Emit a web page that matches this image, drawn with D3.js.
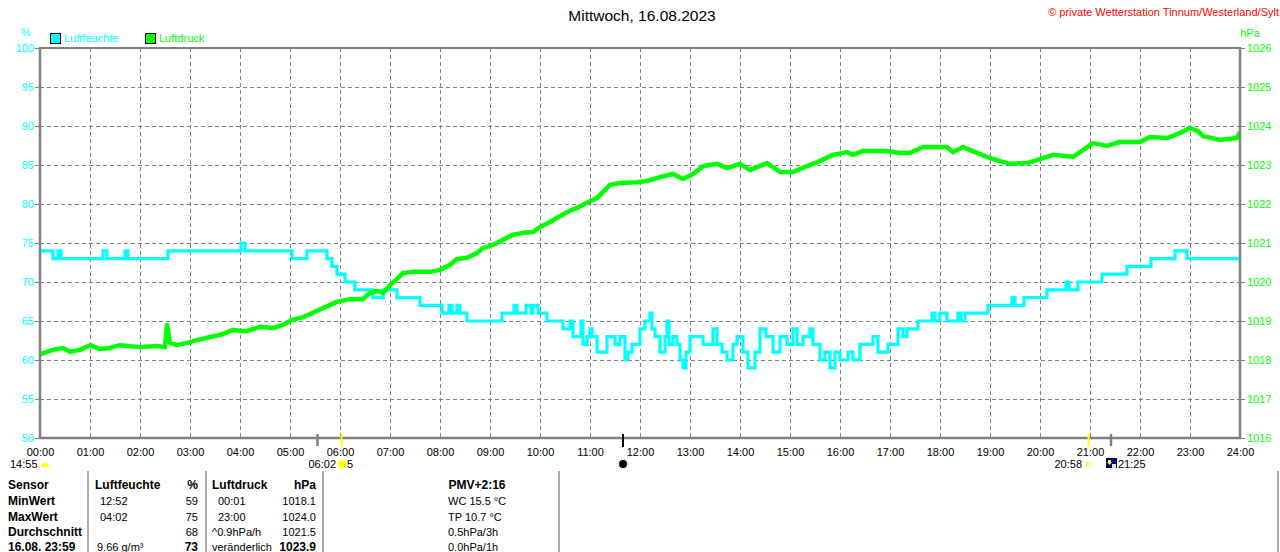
<!DOCTYPE html>
<html><head><meta charset="utf-8">
<script src="https://cdn.jsdelivr.net/npm/d3@7"></script>
<style>
body{margin:0;background:#fff}
svg{display:block;font-family:"Liberation Sans",Arial,sans-serif}
</style>
</head><body>
<svg id="c" width="1280" height="552"></svg>
<script>
// ---------- data ----------
const chartTitle = "Mittwoch, 16.08.2023";
const copyright = "© private Wetterstation Tinnum/Westerland/Sylt";
const seriesNames = ["Luftfeuchte", "Luftdruck"];
const seriesColors = ["#00ffff", "#00ff00"];
const hourTicks = [0,1,2,3,4,5,6,7,8,9,10,11,12,13,14,15,16,17,18,19,20,21,22,23,24];
const hourLabels = ["00:00","01:00","02:00","03:00","04:00","05:00","06:00","07:00","08:00","09:00","10:00","11:00","12:00","13:00","14:00","15:00","16:00","17:00","18:00","19:00","20:00","21:00","22:00","23:00","24:00"];
const humTicks = [50,55,60,65,70,75,80,85,90,95,100];
const presTicks = [1016,1017,1018,1019,1020,1021,1022,1023,1024,1025,1026];

// humidity [hour, %] (step values)
const humidity = [[0,74],[0.26,73],[0.36,74],[0.42,73],[1.26,74],[1.34,73],[1.70,74],[1.76,73],[2.56,74],[4.02,75],[4.10,74],[5.04,73],[5.34,74],[5.74,73],[5.84,72],[5.94,71],[6.10,70],[6.30,69],[6.66,68],[6.86,69],[7.14,68],[7.60,67],[8.04,66],[8.18,67],[8.24,66],[8.34,67],[8.40,66],[8.54,65],[9.24,66],[9.48,67],[9.54,66],[9.72,67],[9.82,66],[9.86,67],[9.96,66],[10.14,65],[10.46,64],[10.60,65],[10.66,63],[10.82,65],[10.86,62],[10.94,63],[11.00,64],[11.04,63],[11.14,61],[11.34,63],[11.50,62],[11.60,63],[11.70,60],[11.76,61],[11.84,62],[12.00,64],[12.10,65],[12.20,66],[12.24,64],[12.30,63],[12.40,61],[12.50,63],[12.54,65],[12.58,62],[12.66,63],[12.74,62],[12.80,60],[12.86,59],[12.92,61],[13.00,63],[13.26,62],[13.46,64],[13.54,62],[13.64,61],[13.74,60],[13.86,62],[13.94,63],[14.06,61],[14.16,59],[14.30,61],[14.40,64],[14.52,63],[14.66,61],[14.80,63],[14.94,62],[15.06,64],[15.14,62],[15.26,63],[15.40,64],[15.46,62],[15.60,60],[15.70,61],[15.80,59],[15.90,61],[16.00,60],[16.16,61],[16.26,60],[16.40,62],[16.66,63],[16.76,61],[16.96,62],[17.16,64],[17.26,63],[17.34,64],[17.56,65],[17.84,66],[17.90,65],[18.00,66],[18.14,65],[18.36,66],[18.42,65],[18.50,66],[18.96,67],[19.44,68],[19.50,67],[19.68,68],[20.14,69],[20.52,70],[20.58,69],[20.76,70],[21.24,71],[21.74,72],[22.22,73],[22.70,74],[22.94,73],[24,73]];

// pressure [hour, hPa]
const pressure = [[0.00,1018.15],[0.26,1018.26],[0.46,1018.31],[0.60,1018.21],[0.80,1018.26],[1.00,1018.38],[1.20,1018.28],[1.40,1018.31],[1.60,1018.38],[2.00,1018.33],[2.34,1018.36],[2.50,1018.33],[2.54,1018.90],[2.60,1018.44],[2.74,1018.38],[2.94,1018.44],[3.14,1018.51],[3.40,1018.59],[3.60,1018.64],[3.86,1018.77],[4.14,1018.74],[4.40,1018.85],[4.66,1018.82],[4.86,1018.90],[5.04,1019.03],[5.26,1019.10],[5.46,1019.21],[5.66,1019.33],[5.94,1019.49],[6.20,1019.56],[6.46,1019.56],[6.60,1019.72],[6.74,1019.77],[6.86,1019.72],[7.00,1019.92],[7.14,1020.08],[7.26,1020.23],[7.46,1020.26],[7.80,1020.26],[8.00,1020.31],[8.20,1020.44],[8.34,1020.59],[8.54,1020.62],[8.74,1020.74],[8.86,1020.87],[9.06,1020.95],[9.26,1021.08],[9.46,1021.21],[9.66,1021.26],[9.86,1021.28],[10.00,1021.41],[10.20,1021.54],[10.34,1021.64],[10.54,1021.79],[10.74,1021.90],[10.94,1022.03],[11.14,1022.15],[11.26,1022.31],[11.40,1022.49],[11.60,1022.54],[11.94,1022.56],[12.14,1022.59],[12.40,1022.69],[12.66,1022.77],[12.86,1022.64],[13.06,1022.77],[13.26,1022.97],[13.54,1023.03],[13.74,1022.92],[14.00,1023.03],[14.20,1022.87],[14.54,1023.05],[14.80,1022.82],[15.06,1022.82],[15.34,1022.97],[15.56,1023.08],[15.86,1023.26],[16.14,1023.33],[16.26,1023.26],[16.46,1023.36],[16.94,1023.36],[17.20,1023.31],[17.40,1023.31],[17.66,1023.46],[18.14,1023.46],[18.26,1023.33],[18.46,1023.46],[18.74,1023.31],[18.94,1023.21],[19.20,1023.10],[19.40,1023.03],[19.74,1023.05],[20.00,1023.15],[20.26,1023.26],[20.66,1023.21],[20.86,1023.38],[21.06,1023.56],[21.34,1023.49],[21.60,1023.59],[22.00,1023.59],[22.20,1023.72],[22.54,1023.69],[22.80,1023.82],[23.00,1023.95],[23.16,1023.87],[23.26,1023.74],[23.60,1023.64],[23.94,1023.69],[24.00,1023.85]];

// astronomical markers on time axis [hour, colour]
const astroHours = [5.55, 6.03, 11.66, 20.97, 21.42];
const astroColors = ["#808080", "#ffff00", "#000000", "#ffff00", "#808080"];

// statistics table
const tableHeader = ["Sensor", "Luftfeuchte", "%", "Luftdruck", "hPa", "PMV+2:16"];
const rowLabels = ["MinWert", "MaxWert", "Durchschnitt", "16.08. 23:59"];
const humCol1 = ["12:52", "04:02", "", "9.66 g/m³"];
const humCol2 = ["59", "75", "68", "73"];
const presCol1 = ["00:01", "23:00", "^0.9hPa/h", "veränderlich"];
const presCol2 = ["1018.1", "1024.0", "1021.5", "1023.9"];
const extraCol = ["WC 15.5 °C", "TP 10.7 °C", "0.5hPa/3h", "0.0hPa/1h"];

// ---------- drawing ----------
const svg = d3.select("#c");
const L = 40, R = 1240, T = 48, B = 438;
const x = d3.scaleLinear().domain([0, 24]).range([L, R]);
const yH = d3.scaleLinear().domain([50, 100]).range([B, T]);
const yP = d3.scaleLinear().domain([1016, 1026]).range([B, T]);
const grey = "#808080";
const FONT = '"Liberation Sans",Arial,sans-serif';

svg.append("rect").attr("width", 1280).attr("height", 552).attr("fill", "#fff");

// title & copyright
svg.append("text").attr("x", 642).attr("y", 21).attr("text-anchor", "middle")
  .attr("font-size", "15.5px").attr("fill", "#000").text(chartTitle);
svg.append("text").attr("x", 1279).attr("y", 16).attr("text-anchor", "end")
  .attr("font-size", "11px").attr("fill", "#ff0000").text(copyright);

// unit labels
svg.append("text").attr("x", 26).attr("y", 36).attr("text-anchor", "middle")
  .attr("font-size", "11px").attr("fill", seriesColors[0]).text("%");
svg.append("text").attr("x", 1250).attr("y", 37).attr("text-anchor", "middle")
  .attr("font-size", "11px").attr("fill", seriesColors[1]).text("hPa");

// legend
const legX = [50, 145];
seriesNames.forEach((n, i) => {
  svg.append("rect").attr("x", legX[i] + 0.5).attr("y", 33.5).attr("width", 10).attr("height", 10)
    .attr("fill", seriesColors[i]).attr("stroke", "#000").attr("stroke-width", 1);
  svg.append("text").attr("x", legX[i] + 14).attr("y", 42).attr("font-size", "11px")
    .attr("fill", seriesColors[i]).text(n);
});

// grid
const grid = svg.append("g").attr("stroke", grey).attr("stroke-width", 1).attr("stroke-dasharray", "4,3");
hourTicks.slice(1, -1).forEach(h => {
  grid.append("line").attr("x1", Math.round(x(h)) + 0.5).attr("x2", Math.round(x(h)) + 0.5)
    .attr("y1", T).attr("y2", B);
});
humTicks.slice(1, -1).forEach(v => {
  grid.append("line").attr("x1", L).attr("x2", R)
    .attr("y1", Math.round(yH(v)) + 0.5).attr("y2", Math.round(yH(v)) + 0.5);
});

// axes
const axL = svg.append("g").attr("transform", `translate(${L},0)`)
  .call(d3.axisLeft(yH).tickValues(humTicks).tickFormat(d3.format("d")).tickSize(5).tickPadding(1));
axL.select(".domain").remove();
axL.selectAll("line").attr("stroke", grey);
axL.selectAll("text").attr("fill", seriesColors[0]).attr("font-size", "11px").attr("font-family", FONT);

const axR = svg.append("g").attr("transform", `translate(${R},0)`)
  .call(d3.axisRight(yP).tickValues(presTicks).tickFormat(d3.format("d")).tickSize(5).tickPadding(2));
axR.select(".domain").remove();
axR.selectAll("line").attr("stroke", grey);
axR.selectAll("text").attr("fill", seriesColors[1]).attr("font-size", "11px").attr("font-family", FONT);

const axB = svg.append("g").attr("transform", `translate(0,${B})`)
  .call(d3.axisBottom(x).tickValues(hourTicks).tickFormat((d, i) => hourLabels[i]).tickSize(0).tickPadding(10));
axB.select(".domain").remove();
axB.selectAll("text").attr("fill", "#000").attr("font-size", "11px").attr("font-family", FONT);

// frame
const fr = svg.append("g").attr("stroke", grey).attr("fill", "none");
fr.append("line").attr("x1", L - 1).attr("x2", R + 1).attr("y1", T).attr("y2", T).attr("stroke-width", 2);
fr.append("line").attr("x1", L).attr("x2", L).attr("y1", T - 1).attr("y2", B + 1).attr("stroke-width", 2.5);
fr.append("line").attr("x1", R).attr("x2", R).attr("y1", T - 1).attr("y2", B + 1).attr("stroke-width", 2.5);
fr.append("line").attr("x1", L - 1).attr("x2", R + 1).attr("y1", B).attr("y2", B).attr("stroke-width", 2.5);

// clip
svg.append("clipPath").attr("id", "clip").append("rect")
  .attr("x", L + 1).attr("y", T).attr("width", R - L - 2).attr("height", B - T);

// series
const plot = svg.append("g").attr("clip-path", "url(#clip)");
plot.append("path").datum(humidity)
  .attr("d", d3.line().x(d => x(d[0])).y(d => yH(d[1])).curve(d3.curveStepAfter))
  .attr("fill", "none").attr("stroke", seriesColors[0]).attr("stroke-width", 3.2);
plot.append("path").datum(pressure)
  .attr("d", d3.line().x(d => x(d[0])).y(d => yP(d[1])))
  .attr("fill", "none").attr("stroke", seriesColors[1]).attr("stroke-width", 4.5)
  .attr("stroke-linejoin", "round");

// astro markers on axis
astroHours.forEach((h, i) => {
  const isGrey = astroColors[i] === grey;
  svg.append("line").attr("x1", x(h)).attr("x2", x(h))
    .attr("y1", B - 4).attr("y2", isGrey ? B + 8 : B + 9)
    .attr("stroke", astroColors[i]).attr("stroke-width", isGrey ? 2.5 : 2);
});

// astro labels row
const small = "11px";
svg.append("text").attr("x", 10).attr("y", 468).attr("font-size", small).text("14:55");
svg.append("path").attr("d", "M41,467 A4,4 0 0 1 49,467 Z").attr("fill", "#ffff00");
svg.append("text").attr("x", 336).attr("y", 468).attr("font-size", small).attr("text-anchor", "end").text("06:02");
const sun = svg.append("g").attr("transform", "translate(342,464)");
d3.range(8).forEach(k => {
  const a = k * Math.PI / 4;
  sun.append("line").attr("x1", Math.cos(a) * 3).attr("y1", Math.sin(a) * 3)
    .attr("x2", Math.cos(a) * 5.5).attr("y2", Math.sin(a) * 5.5)
    .attr("stroke", "#ffff00").attr("stroke-width", 1.2);
});
sun.append("circle").attr("r", 3.5).attr("fill", "#ffff00");
svg.append("text").attr("x", 347).attr("y", 468).attr("font-size", small).text("5");
svg.append("circle").attr("cx", 623).attr("cy", 464).attr("r", 5).attr("fill", "none")
  .attr("stroke", "#c0c0c0").attr("stroke-width", 1).attr("stroke-dasharray", "1,2");
svg.append("circle").attr("cx", 623).attr("cy", 464).attr("r", 4).attr("fill", "#000");
svg.append("text").attr("x", 1082).attr("y", 468).attr("font-size", small).attr("text-anchor", "end").text("20:58");
svg.append("rect").attr("x", 1086.5).attr("y", 462.5).attr("width", 3.5).attr("height", 3.5)
  .attr("fill", "none").attr("stroke", "#ffff00").attr("stroke-width", 1);
svg.append("rect").attr("x", 1106).attr("y", 458).attr("width", 11).attr("height", 10).attr("fill", "#000080");
svg.append("path").attr("d", "M1108,460 L1111,460 L1111,462 L1112,462 L1109.5,465 L1107,462 L1108,462 Z").attr("fill", "#ffff00");
svg.append("rect").attr("x", 1112).attr("y", 464).attr("width", 4).attr("height", 4).attr("fill", "#e0e0ff");
svg.append("text").attr("x", 1118).attr("y", 468).attr("font-size", small).text("21:25");

// table separators
[88, 206, 323, 559, 1278].forEach(xx => {
  svg.append("line").attr("x1", xx).attr("x2", xx).attr("y1", 471).attr("y2", 552)
    .attr("stroke", "#909090").attr("stroke-width", 1.5);
});

// table text (baselines)
const rowBase = [489, 505, 521, 536, 550.5];
const tbl = svg.append("g").attr("fill", "#000");
function t(xx, yy, s, anchor, bold) {
  tbl.append("text").attr("x", xx).attr("y", yy).attr("text-anchor", anchor || "start")
    .attr("font-weight", bold ? "bold" : "normal").attr("font-size", bold ? "12px" : "11px").text(s);
}
t(8, rowBase[0], tableHeader[0], "start", true);
t(95, rowBase[0], tableHeader[1], "start", true);
t(198, rowBase[0], tableHeader[2], "end", true);
t(212, rowBase[0], tableHeader[3], "start", true);
t(316, rowBase[0], tableHeader[4], "end", true);
t(477, rowBase[0], tableHeader[5], "middle", true);
rowLabels.forEach((r, i) => {
  const yy = rowBase[i + 1];
  const last = i === 3;
  t(8, yy, r, "start", true);
  t(last ? 97 : 100, yy, humCol1[i], "start", false);
  t(198, yy, humCol2[i], "end", last);
  t(i >= 2 ? 212 : 218, yy, presCol1[i], "start", false);
  t(316, yy, presCol2[i], "end", last);
  t(448, yy, extraCol[i], "start", false);
});
</script>
</body></html>
